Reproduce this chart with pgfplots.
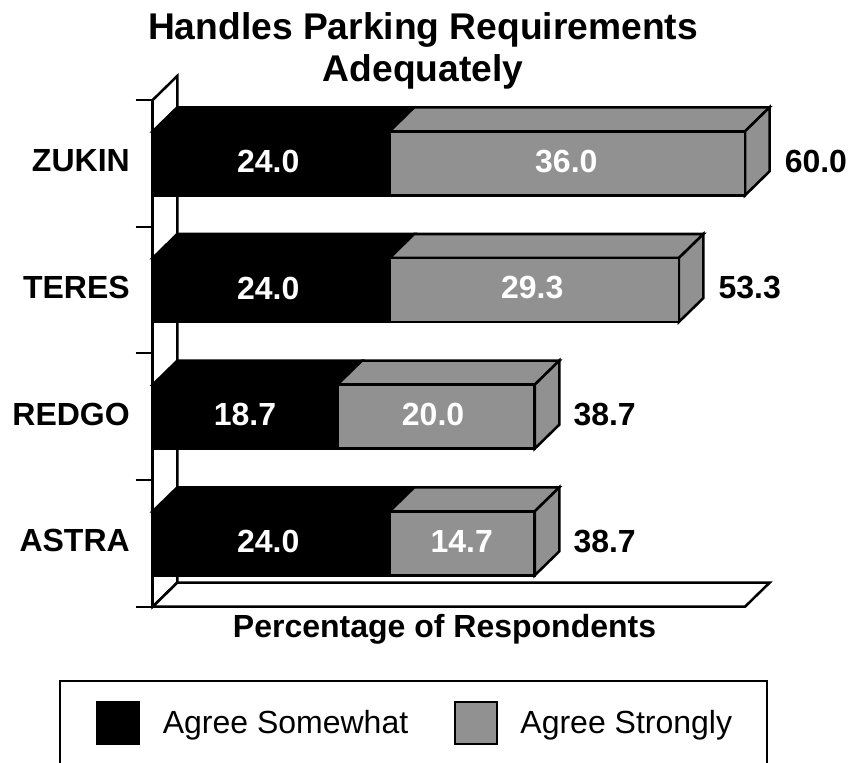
\documentclass[border=0pt]{standalone}
\usepackage{fontspec}
\setmainfont{Liberation Sans}
\usepackage{pgfplots}
\pgfplotsset{compat=1.18}
\definecolor{bargray}{gray}{0.57}
\pgfplotsset{
  base/.style={
    at={(114.525pt,117.225pt)}, anchor=south west,
    scale only axis, width=444.225pt, height=380.025pt,
    xmin=0, xmax=60, ymin=-0.5, ymax=3.5, clip=false
  }
}
\begin{document}
\begin{tikzpicture}
\path[use as bounding box] (0,0) rectangle (636.75pt,572.25pt);
% legend frame, open at the bottom as in the reference
\draw[line width=1.6pt] (45pt,0pt) -- (45pt,61.5pt) -- (575.25pt,61.5pt) -- (575.25pt,0pt);
\begin{axis}[base,
  axis x line=bottom, axis y line=left, axis line style={-, line width=1.9pt},
  xtick=\empty,
  ytick={-0.5,0.5,1.5,2.5,3.5}, yticklabels={},
  tick style={black, line width=1.7pt}, tick align=outside, major tick length=12.75pt,
  extra y ticks={0,1,2,3},
  extra y tick labels={ASTRA,REDGO,TERES,ZUKIN},
  extra y tick style={major tick length=0pt, tick style={draw=none}},
  y tick label style={font=\fontsize{24}{26}\selectfont\bfseries, inner sep=0pt, xshift=-17pt, yshift=1.8pt},
  xlabel={Percentage of Respondents},
  xlabel style={at={(axis description cs:0.4927,-0.044)}, anchor=center, inner sep=0pt,
     font=\fontsize{24}{28}\selectfont\bfseries},
  title={Handles Parking Requirements\\Adequately},
  title style={at={(axis description cs:0.4564,1.0809)}, anchor=center, align=center, inner sep=0pt,
     font=\fontsize{27.9}{31.5}\selectfont\bfseries},
]
% back wall and floor
\addplot[fill=white, draw=black, line width=1.9pt] coordinates {(0,-0.5) (2.49,-0.3105) (2.49,3.6895) (0,3.5)} --cycle;
\addplot[fill=white, draw=black, line width=1.9pt] coordinates {(0,-0.5) (2.49,-0.3105) (62.49,-0.3105) (60,-0.5)} --cycle;
% ZUKIN depth faces
\addplot[fill=black, draw=black, line width=1.9pt] coordinates {(0,3.2526) (2.49,3.4421) (26.49,3.4421) (24,3.2526)} --cycle;
\addplot[fill=bargray, draw=black, line width=1.9pt] coordinates {(24,3.2526) (26.49,3.4421) (62.49,3.4421) (60,3.2526)} --cycle;
\addplot[fill=bargray, draw=black, line width=1.9pt] coordinates {(60,3.2526) (62.49,3.4421) (62.49,2.9369) (60,2.7474)} --cycle;
% TERES depth faces
\addplot[fill=black, draw=black, line width=1.9pt] coordinates {(0,2.2526) (2.49,2.4421) (26.49,2.4421) (24,2.2526)} --cycle;
\addplot[fill=bargray, draw=black, line width=1.9pt] coordinates {(24,2.2526) (26.49,2.4421) (55.79,2.4421) (53.3,2.2526)} --cycle;
\addplot[fill=bargray, draw=black, line width=1.9pt] coordinates {(53.3,2.2526) (55.79,2.4421) (55.79,1.9369) (53.3,1.7474)} --cycle;
% REDGO depth faces
\addplot[fill=black, draw=black, line width=1.9pt] coordinates {(0,1.2526) (2.49,1.4421) (21.19,1.4421) (18.7,1.2526)} --cycle;
\addplot[fill=bargray, draw=black, line width=1.9pt] coordinates {(18.7,1.2526) (21.19,1.4421) (41.19,1.4421) (38.7,1.2526)} --cycle;
\addplot[fill=bargray, draw=black, line width=1.9pt] coordinates {(38.7,1.2526) (41.19,1.4421) (41.19,0.9369) (38.7,0.7474)} --cycle;
% ASTRA depth faces
\addplot[fill=black, draw=black, line width=1.9pt] coordinates {(0,0.2526) (2.49,0.4421) (26.49,0.4421) (24,0.2526)} --cycle;
\addplot[fill=bargray, draw=black, line width=1.9pt] coordinates {(24,0.2526) (26.49,0.4421) (41.19,0.4421) (38.7,0.2526)} --cycle;
\addplot[fill=bargray, draw=black, line width=1.9pt] coordinates {(38.7,0.2526) (41.19,0.4421) (41.19,-0.0631) (38.7,-0.2526)} --cycle;
\end{axis}
\begin{axis}[base, hide axis,
  xbar stacked, bar width=48pt,
  legend columns=2,
  legend style={at={(axis description cs:-0.0957,-0.2295)}, anchor=west, draw=none, fill=none,
     inner sep=0pt, outer sep=0pt,
     font=\fontsize{24}{28}\selectfont,
     /tikz/column 2/.style={column sep=32.5pt},
     /tikz/column 1/.style={column sep=15pt},
     /tikz/column 3/.style={column sep=14.5pt},
     },
  legend image code/.code={\draw[#1, line width=1.6pt] (0pt,-16pt) rectangle (31.5pt,16pt);},
]
\addplot[fill=black, draw=black, line width=1.9pt] coordinates {(24,0) (18.7,1) (24,2) (24,3)};
\addlegendentry{Agree Somewhat}
\addplot[fill=bargray, draw=black, line width=1.9pt] coordinates {(14.7,0) (20,1) (29.3,2) (36,3)};
\addlegendentry{Agree Strongly}
\end{axis}
\begin{axis}[base, hide axis]
\tikzset{vl/.style={font=\fontsize{24}{26}\selectfont\bfseries, text=white, anchor=center, inner sep=0pt, yshift=1.5pt},
         tl/.style={font=\fontsize{24}{26}\selectfont\bfseries, text=black, anchor=west, inner sep=0pt, yshift=1.5pt}}
\addplot[draw=none, forget plot] coordinates {(0,0) (60,3)};
\node[vl] at (axis cs:11.7,3) {24.0};
\node[vl] at (axis cs:41.9,3) {36.0};
\node[tl] at (axis cs:64,3) {60.0};
\node[vl] at (axis cs:11.7,2) {24.0};
\node[vl] at (axis cs:38.45,2) {29.3};
\node[tl] at (axis cs:57.3,2) {53.3};
\node[vl] at (axis cs:9.35,1) {18.7};
\node[vl] at (axis cs:28.4,1) {20.0};
\node[tl] at (axis cs:42.6,1) {38.7};
\node[vl] at (axis cs:11.7,0) {24.0};
\node[vl] at (axis cs:31.3,0) {14.7};
\node[tl] at (axis cs:42.6,0) {38.7};
\end{axis}
\end{tikzpicture}
\end{document}
